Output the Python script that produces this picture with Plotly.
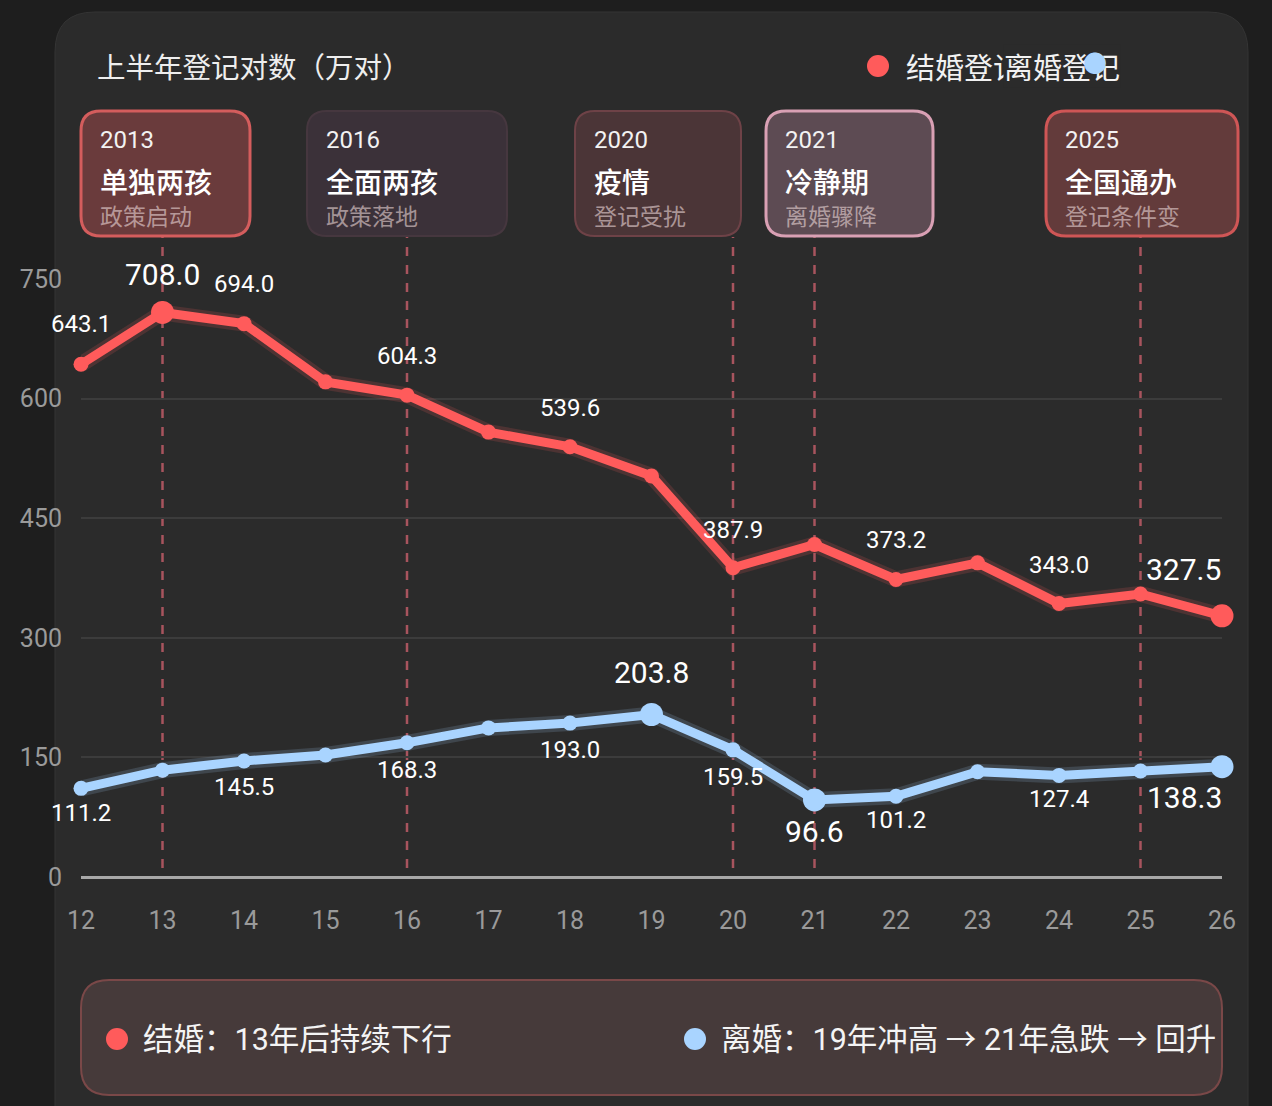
import plotly.graph_objects as go

# ---- data ----
years = [12, 13, 14, 15, 16, 17, 18, 19, 20, 21, 22, 23, 24, 25, 26]
marriage = [643.1, 708.0, 694.0, 621.0, 604.3, 558.0, 539.6, 503.0, 387.9, 417.0, 373.2, 394.0, 343.0, 355.0, 327.5]
divorce = [111.2, 134.0, 145.5, 153.0, 168.3, 187.0, 193.0, 203.8, 159.5, 96.6, 101.2, 132.0, 127.4, 133.0, 138.3]

y_ticks = [0, 150, 300, 450, 600, 750]

marriage_labelled = [12, 13, 14, 16, 18, 20, 22, 24, 26]
divorce_labelled = [12, 14, 16, 18, 19, 20, 21, 22, 24, 26]
marriage_big = [13, 26]
divorce_big = [19, 21, 26]

event_years = [13, 16, 20, 21, 25]
event_titles = ["2013", "2016", "2020", "2021", "2025"]
event_names = ["单独两孩", "全面两孩", "疫情", "冷静期", "全国通办"]
event_notes = ["政策启动", "政策落地", "登记受扰", "离婚骤降", "登记条件变"]

title_text = "上半年登记对数（万对）"
legend_names = ["结婚登记", "离婚登记"]
summary = ["结婚：13年后持续下行", "离婚：19年冲高 → 21年急跌 → 回升"]

# ---- styling ----
RED = "#ff5b5b"
BLUE = "#a9d4ff"
BG = "#1e1e1e"
PANEL = "#2b2b2b"
FONT = "Roboto, Noto Sans CJK SC"
CJK = "Noto Sans CJK SC"

W, H = 1272, 1106
L, R, T, B = 81, 1222, 279, 877


def px(x):
    return (x - L) / (R - L)


def py(y):
    return (B - y) / (B - T)


def rrect(x0, y0, x1, y1, r):
    return (f"M {px(x0 + r)},{py(y0)} L {px(x1 - r)},{py(y0)} "
            f"Q {px(x1)},{py(y0)} {px(x1)},{py(y0 + r)} L {px(x1)},{py(y1 - r)} "
            f"Q {px(x1)},{py(y1)} {px(x1 - r)},{py(y1)} L {px(x0 + r)},{py(y1)} "
            f"Q {px(x0)},{py(y1)} {px(x0)},{py(y1 - r)} L {px(x0)},{py(y0 + r)} "
            f"Q {px(x0)},{py(y0)} {px(x0 + r)},{py(y0)} Z")


fig = go.Figure()

for vals, col, glow in [(marriage, RED, "rgba(255,91,91,0.16)"), (divorce, BLUE, "rgba(169,212,255,0.16)")]:
    fig.add_trace(go.Scatter(x=years, y=vals, mode="lines", line=dict(color=glow, width=16),
                             hoverinfo="skip", cliponaxis=False, showlegend=False))
    fig.add_trace(go.Scatter(x=years, y=vals, mode="lines", line=dict(color=col, width=9),
                             cliponaxis=False, showlegend=False))

m_sizes = [23 if y in marriage_big else 15 for y in years]
d_sizes = [23 if y in divorce_big else 15 for y in years]
fig.add_trace(go.Scatter(x=years, y=marriage, mode="markers",
                         marker=dict(color=RED, size=m_sizes, opacity=1, line=dict(width=0)),
                         cliponaxis=False, name=legend_names[0], showlegend=False))
fig.add_trace(go.Scatter(x=years, y=divorce, mode="markers",
                         marker=dict(color=BLUE, size=d_sizes, opacity=1, line=dict(width=0)),
                         cliponaxis=False, name=legend_names[1], showlegend=False))

shapes = []
annos = []

# panel
shapes.append(dict(type="path", xref="paper", yref="paper", path=rrect(55, 12, 1248, 1160, 40),
                   fillcolor=PANEL, line=dict(color="#343434", width=1), layer="below"))

# event markers: dashed lines and boxes
box_px = [(81, 250), (307, 507), (575, 741), (766, 933), (1046, 1238)]
box_fill = ["#6a3b3c", "#3b3139", "#4b3537", "#5d4b53", "#633b3b"]
box_line = ["#d45d5d", "#46373f", "#6e4247", "#d9a0b4", "#cf5656"]
box_lw = [3, 2, 2, 3, 3]
for i, yr in enumerate(event_years):
    shapes.append(dict(type="line", xref="x", yref="paper", x0=yr, x1=yr, y0=py(868), y1=py(237),
                       line=dict(color="#a8545e", width=2.5, dash="dash"), layer="below"))
    x0, x1 = box_px[i]
    shapes.append(dict(type="path", xref="paper", yref="paper", path=rrect(x0, 111, x1, 236, 20),
                       fillcolor=box_fill[i], line=dict(color=box_line[i], width=box_lw[i]), layer="above"))
    tx = px(x0 + 17)
    annos.append(dict(x=tx, y=py(140), xref="paper", yref="paper", text=event_titles[i], showarrow=False,
                      xanchor="left", yanchor="middle", font=dict(family=FONT, size=24, color="#f2f2f2")))
    annos.append(dict(x=tx, y=py(181), xref="paper", yref="paper", text=event_names[i], showarrow=False,
                      xanchor="left", yanchor="middle", font=dict(family=CJK, size=28, color="#ffffff", weight=500)))
    annos.append(dict(x=tx, y=py(215), xref="paper", yref="paper", text=event_notes[i], showarrow=False,
                      xanchor="left", yanchor="middle", font=dict(family=CJK, size=23, color="rgba(235,215,215,0.6)")))

# data labels
m_off = {12: (0, 40), 13: (0, 38), 14: (0, 40), 16: (0, 39), 18: (0, 39), 20: (0, 38),
         22: (0, 39), 24: (0, 39), 26: (-39, 46)}
d_off = {12: (0, -25), 14: (0, -26), 16: (0, -27), 18: (0, -27), 19: (0, 42), 20: (0, -27),
         21: (0, -32), 22: (0, -24), 24: (0, -24), 26: (-38, -31)}
for yr in marriage_labelled:
    v = marriage[years.index(yr)]
    dx, dy = m_off[yr]
    annos.append(dict(x=yr, y=v, xref="x", yref="y", text=f"{v:.1f}", showarrow=False, xshift=dx, yshift=dy,
                      font=dict(family=FONT, size=30 if yr in marriage_big else 24, color="#ffffff")))
for yr in divorce_labelled:
    v = divorce[years.index(yr)]
    dx, dy = d_off[yr]
    annos.append(dict(x=yr, y=v, xref="x", yref="y", text=f"{v:.1f}", showarrow=False, xshift=dx, yshift=dy,
                      font=dict(family=FONT, size=30 if yr in divorce_big else 24, color="#ffffff")))

# title and legend
annos.append(dict(x=px(95), y=py(66), xref="paper", yref="paper", text=title_text, showarrow=False,
                  xanchor="left", yanchor="middle", font=dict(family=CJK, size=28.5, color="#eeeeee")))
shapes.append(dict(type="circle", xref="paper", yref="paper", x0=px(867), x1=px(889), y0=py(77), y1=py(55),
                   fillcolor=RED, line=dict(width=0)))
annos.append(dict(x=px(904), y=py(66), xref="paper", yref="paper", text=legend_names[0], showarrow=False,
                  xanchor="left", yanchor="middle", font=dict(family=CJK, size=29, color="#f2f2f2")))
annos.append(dict(x=px(1003), y=py(66), xref="paper", yref="paper", text=legend_names[1], showarrow=False,
                  xanchor="left", yanchor="middle", bgcolor=PANEL, borderpad=0,
                  font=dict(family=CJK, size=29, color="#f2f2f2")))
annos.append(dict(x=px(1095), y=py(61), xref="paper", yref="paper", text="●", showarrow=False,
                  xanchor="center", yanchor="middle", font=dict(family=CJK, size=24, color=BLUE)))

# bottom summary box
shapes.append(dict(type="path", xref="paper", yref="paper", path=rrect(81, 980, 1222, 1095, 28),
                   fillcolor="#463a3a", line=dict(color="#7a4848", width=2), layer="above"))
for cx, col, txt in [(117, RED, summary[0]), (695, BLUE, summary[1])]:
    shapes.append(dict(type="circle", xref="paper", yref="paper", x0=px(cx - 11), x1=px(cx + 11),
                       y0=py(1050), y1=py(1028), fillcolor=col, line=dict(width=0)))
    annos.append(dict(x=px(cx + 24), y=py(1039), xref="paper", yref="paper", text=txt, showarrow=False,
                      xanchor="left", yanchor="middle", font=dict(family=FONT, size=30.5, color="#f4f4f4")))

fig.update_layout(
    width=W, height=H,
    margin=dict(l=L, r=W - R, t=T, b=H - B),
    paper_bgcolor=BG, plot_bgcolor="rgba(0,0,0,0)",
    showlegend=False,
    shapes=shapes, annotations=annos,
    xaxis=dict(range=[12, 26], tickvals=years, ticktext=[str(y) for y in years], showgrid=False,
               zeroline=False, showline=False, ticks="", ticklabelstandoff=26,
               tickfont=dict(family=FONT, size=25, color="#9a9a9a")),
    yaxis=dict(range=[0, 750], tickvals=y_ticks, showgrid=True, gridcolor="#3c3c3c", gridwidth=1.5,
               zeroline=True, zerolinecolor="#a8a8a8", zerolinewidth=3, showline=False, ticks="",
               ticklabelstandoff=18, tickfont=dict(family=FONT, size=25, color="#9a9a9a")),
)

fig.write_html("out.html", config={"displayModeBar": False},
               post_script="document.body.style.margin='0';")
